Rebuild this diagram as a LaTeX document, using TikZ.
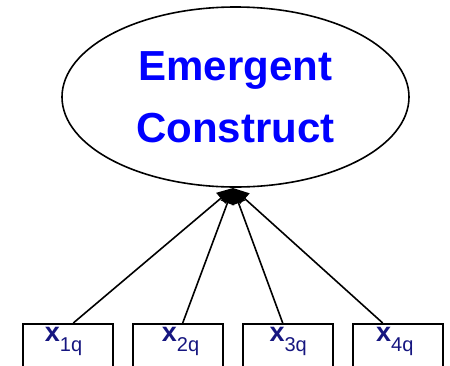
\documentclass[tikz,border=0pt]{standalone}
\usepackage{fontspec}
\setmainfont{Liberation Sans}
\usetikzlibrary{shapes.geometric,arrows.meta,calc}
\definecolor{titleblue}{RGB}{0,0,255}
\definecolor{labnavy}{RGB}{22,22,128}
\begin{document}
\begin{tikzpicture}[x=1pt,y=-1pt,
  construct/.style={ellipse,draw,line width=1.6pt,minimum width=347pt,minimum height=180pt,inner sep=0pt,
    align=center,text=titleblue,font=\fontsize{42}{62}\selectfont\bfseries},
  indicator/.style={rectangle,draw,line width=1.7pt,minimum width=90pt,minimum height=50pt,anchor=north,inner sep=0pt},
  lab/.style={anchor=base west,inner sep=0pt,text=labnavy,font=\fontsize{27}{27}\selectfont\bfseries},
  path/.style={draw,line width=1.6pt,-{Triangle[length=16pt,width=14pt]}}]
\useasboundingbox (0,0) rectangle (450,365);
\clip (0,0) rectangle (450,365);
\node[construct] (ec) at (235.5,97) {Emergent\\Construct};
\node[indicator] (b1) at (68.3,323) {};
\node[indicator] (b2) at (177.7,323) {};
\node[indicator] (b3) at (287.7,323) {};
\node[indicator] (b4) at (398.3,323) {};
\newcommand{\subq}[1]{\raisebox{-9.5pt}{\fontsize{20}{20}\selectfont\mdseries #1}}
\node[lab] (l1) at (44.7,341.7) {x\subq{1q}};
\node[lab] (l2) at (161.7,341.7) {x\subq{2q}};
\node[lab] (l3) at (269.3,341.7) {x\subq{3q}};
\node[lab] (l4) at (376,341.7) {x\subq{4q}};
\coordinate (tip) at (233,188);
\path[path] ($(b1.north)+(5,0)$) -- (tip);
\path[path] ($(b2.north)+(5,0)$) -- (tip);
\path[path] ($(b3.north)+(-5,0)$) -- (tip);
\path[path] ($(b4.north)+(-15.6,0)$) -- (tip);
\end{tikzpicture}
\end{document}
